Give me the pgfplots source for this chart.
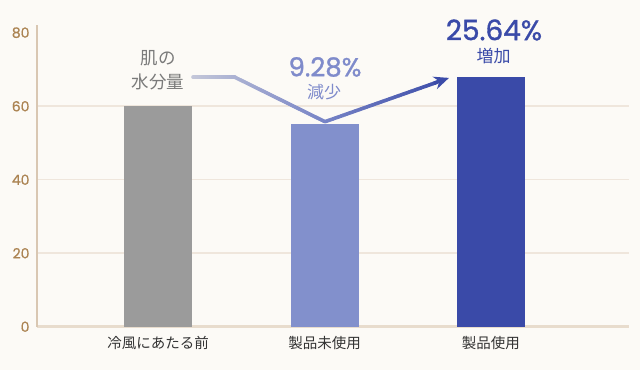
\documentclass[border=0pt]{standalone}
\usepackage{pgfplots}
\pgfplotsset{compat=1.18}
\usetikzlibrary{arrows.meta}
\usepackage{fontspec}
\setmainfont{Noto Sans CJK JP}
\newfontfamily\pop{Poppins}
\newfontfamily\popm{Poppins}[FakeBold=1.2]
\newfontfamily\popt{Poppins}[FakeBold=0.8]
\definecolor{bg}{HTML}{FCFAF6}
\definecolor{gridc}{HTML}{EFE6DC}
\definecolor{basec}{HTML}{E8DCCD}
\definecolor{yaxc}{HTML}{D9C7B2}
\definecolor{tickc}{HTML}{AC8453}
\definecolor{b1}{HTML}{9B9B9B}
\definecolor{b2}{HTML}{8290CC}
\definecolor{b3}{HTML}{3A4AA8}
\definecolor{lab}{HTML}{333333}
\definecolor{grayt}{HTML}{7A7A7A}
\definecolor{t2}{HTML}{7F8BCB}
\definecolor{c1}{HTML}{C4C7D9}
\definecolor{c2}{HTML}{7784C6}
\definecolor{c3}{HTML}{3B4BA8}
\begin{document}
\begin{tikzpicture}[x=1pt,y=1pt]
\useasboundingbox (0pt,0pt) rectangle (640pt,370pt);
\fill[bg] (0pt,0pt) rectangle (640pt,370pt);
\begin{axis}[
  at={(37pt,43.3pt)}, anchor=south west,
  scale only axis, width=592pt, height=301.7pt,
  xmin=-0.727, xmax=2.829, ymin=0, ymax=82.1,
  axis lines=left,
  axis line style={-},
  x axis line style={draw=basec, line width=3pt},
  y axis line style={draw=yaxc, line width=1.5pt},
  xtick={0,1,2},
  xticklabels={冷風にあたる前,製品未使用,製品使用},
  ytick={20,40,60},
  extra y ticks={0,80},
  extra y tick style={grid=none},
  ymajorgrids,
  grid style={draw=gridc, line width=1.5pt},
  major tick length=0pt,
  /pgf/number format/assume math mode=true,
  yticklabel style={font=\popt\fontsize{14}{14}\selectfont, text=tickc, xshift=-4pt},
  xticklabel style={font=\fontsize{14.5}{15}\selectfont, text=lab, yshift=-6pt},
  ybar, bar width=68pt, bar shift=0pt,
]
\addplot[fill=b1, draw=none] coordinates {(0,60)};
\addplot[fill=b2, draw=none] coordinates {(1,55.1)};
\addplot[fill=b3, draw=none] coordinates {(2,68.0)};
\end{axis}
% gradient annotation line
\foreach \x in {193,195,...,435} {
  \pgfmathsetmacro\xa{\x}
  \pgfmathsetmacro\xb{\x+2}
  \pgfmathsetmacro\ya{\xa<=235 ? 292.7 : (\xa<=325 ? 292.7-(\xa-235)*0.4933 : 248.3+(\xa-325)*0.3524)}
  \pgfmathsetmacro\yb{\xb<=235 ? 292.7 : (\xb<=325 ? 292.7-(\xb-235)*0.4933 : 248.3+(\xb-325)*0.3524)}
  \pgfmathsetmacro\p{\xa<325 ? (\xa-193)/132*100 : (\xa-325)/124*100}
  \ifdim\xa pt<325pt \colorlet{cc}{c2!\p!c1}\else\colorlet{cc}{c3!\p!c2}\fi
  \draw[cc, line width=3.6pt, line cap=round] (\xa pt,\ya pt) -- (\xb pt,\yb pt);
}
\draw[c3, line width=3.6pt, -{Stealth[length=15pt,width=13pt]}] (434pt,286.8pt) -- (449pt,292.1pt);
% annotation texts
\begin{scope}[every node/.style={inner sep=0pt}]
\node[text=grayt, font=\fontsize{17.5}{18}\selectfont] at (158pt,312pt) {肌の};
\node[text=grayt, font=\fontsize{17.5}{18}\selectfont] at (158pt,288.5pt) {水分量};
\node[text=t2, font=\popm\fontsize{26}{26}\selectfont] at (325pt,303pt) {9.28\%};
\node[text=t2, font=\fontsize{17}{17}\selectfont] at (324pt,278pt) {減少};
\node[text=b3, font=\popm\fontsize{28}{28}\selectfont] at (494pt,340pt) {25.64\%};
\node[text=b3, font=\fontsize{17}{17}\selectfont] at (493.5pt,314pt) {増加};
\end{scope}
\end{tikzpicture}
\end{document}
